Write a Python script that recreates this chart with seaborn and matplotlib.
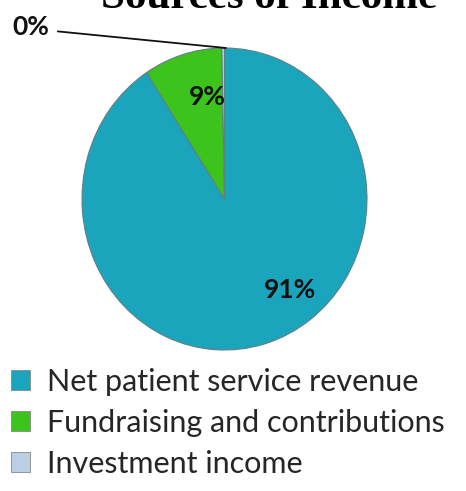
import matplotlib
matplotlib.use("Agg")
import matplotlib.pyplot as plt
import seaborn as sns

categories = ["Net patient service revenue", "Fundraising and contributions", "Investment income"]
values = [90.8, 8.9, 0.3]
colors = ["#1ba5bd", "#3cc41c", "#b9cfe4"]
title = "Sources of Income"

sns.set_theme(style="white")
plt.rcParams["font.family"] = ["Lato", "DejaVu Sans"]

W, H = 466, 491
fig = plt.figure(figsize=(W / 100, H / 100), dpi=100)
# pie area in pixels: x 82..367, y 48..350
ax = fig.add_axes([82 / W, 1 - 350 / H, 285 / W, 302 / H])

wedges, texts, autotexts = ax.pie(
    values, colors=colors, startangle=90, counterclock=False,
    autopct="%.0f%%", radius=1,
    wedgeprops=dict(edgecolor="#5f7f86", linewidth=0.8),
    textprops=dict(fontsize=19, fontweight="bold", color="#111111"),
)
ax.set_aspect("auto")
ax.set_xlim(-1, 1)
ax.set_ylim(-1, 1)
ax.axis("off")

# reposition labels
autotexts[0].set_position((0.46, -0.60))
autotexts[1].set_position((-0.12, 0.675))
autotexts[2].set_position((-1.36, 1.14))
for t in autotexts:
    t.set_ha("center"); t.set_va("center")
    t.set_clip_on(False)
ax.plot([-1.17, 0.01], [1.11, 1.0], color="#111111", lw=1.3, clip_on=False)

fig.text(269 / W, 1 - 8 / H, title, ha="center", va="baseline",
         fontsize=31, fontweight="bold", family="Liberation Serif", color="black")

leg = fig.legend(wedges, categories, loc="upper left",
                 bbox_to_anchor=(11 / W, 1 - 368 / H), frameon=False,
                 fontsize=22, handlelength=0.62, handleheight=0.62,
                 handletextpad=0.55, labelspacing=0.42, borderaxespad=0,
                 borderpad=0.0)
for h in leg.legend_handles:
    h.set_edgecolor("#888888")
    h.set_linewidth(0.6)

fig.savefig("out.png", dpi=100)
